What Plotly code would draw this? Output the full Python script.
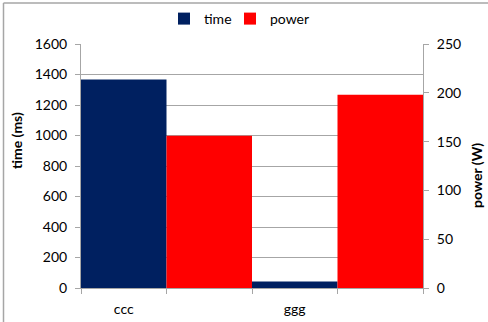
import plotly.graph_objects as go

categories = ["ccc", "ggg"]
time_ms = [1368, 43]
power_w = [156, 198]

FONT = "Lato, Calibri, Arial, sans-serif"
GRID = "#a6a6a6"
NAVY = "#002060"
RED = "#ff0000"

x_pos = list(range(len(categories)))

fig = go.Figure()
fig.add_trace(go.Bar(
    x=x_pos, y=time_ms, name="time", marker=dict(color=NAVY, line=dict(width=0)),
    width=0.5, offset=-0.25, yaxis="y", legend="legend",
))
fig.add_trace(go.Bar(
    x=x_pos, y=power_w, name="power", marker=dict(color=RED, line=dict(width=0)),
    width=0.5, offset=0.25, yaxis="y2", legend="legend2",
))

W, H = 488, 322
L, R, T, B = 81, 65, 44, 34
pw, ph = W - L - R, H - T - B


def px_x(x):
    return (x - L) / pw


def px_y(y):
    return (H - B - y) / ph


legend_style = dict(
    orientation="h", yanchor="middle", y=px_y(19), xanchor="left",
    font=dict(size=14), bgcolor="rgba(0,0,0,0)", borderwidth=0,
)

fig.update_layout(
    width=W, height=H,
    margin=dict(l=L, r=R, t=T, b=B, pad=0, autoexpand=False),
    paper_bgcolor="white", plot_bgcolor="white",
    font=dict(family=FONT, size=14, color="#000000"),
    barmode="overlay",
    showlegend=True,
    legend=dict(x=px_x(164), **legend_style),
    legend2=dict(x=px_x(230), **legend_style),
    xaxis=dict(
        range=[-0.25, 1.75], tickvals=x_pos, ticktext=categories,
        ticks="", ticklen=0, showgrid=False, zeroline=False,
        showline=True, linecolor=GRID, linewidth=1,
        ticklabelstandoff=8, automargin=False,
        minor=dict(tick0=-0.25, dtick=0.5, ticks="outside", ticklen=5,
                   tickcolor=GRID, showgrid=False),
        fixedrange=True,
    ),
    yaxis=dict(
        range=[0, 1600], dtick=200, tick0=0,
        showgrid=True, gridcolor=GRID, gridwidth=1,
        zeroline=False, showline=True, linecolor=GRID, linewidth=1,
        ticks="outside", ticklen=5, tickcolor=GRID,
        ticklabelstandoff=5, automargin=False,
    ),
    yaxis2=dict(
        range=[0, 250], dtick=50, tick0=0, overlaying="y", side="right",
        showgrid=False, zeroline=False, showline=True, linecolor=GRID, linewidth=1,
        ticks="outside", ticklen=5, tickcolor=GRID,
        ticklabelstandoff=5, automargin=False,
    ),
    annotations=[
        dict(text="<b>time (ms)</b>", textangle=-90, x=px_x(16), y=px_y(141),
             xref="paper", yref="paper", showarrow=False, font=dict(size=14),
             xanchor="center", yanchor="middle"),
        dict(text="<b>power (W)</b>", textangle=-90, x=px_x(477), y=px_y(176),
             xref="paper", yref="paper", showarrow=False, font=dict(size=14),
             xanchor="center", yanchor="middle"),
    ],
    shapes=[
        dict(type="line", xref="paper", yref="paper", x0=px_x(3.5), x1=px_x(3.5),
             y0=px_y(3), y1=px_y(330), line=dict(color="#a6a6a6", width=1.5)),
        dict(type="line", xref="paper", yref="paper", x0=px_x(3.5), x1=px_x(495),
             y0=px_y(3), y1=px_y(3), line=dict(color="#a6a6a6", width=1.5)),
    ],
)

fig.write_html("out.html")
